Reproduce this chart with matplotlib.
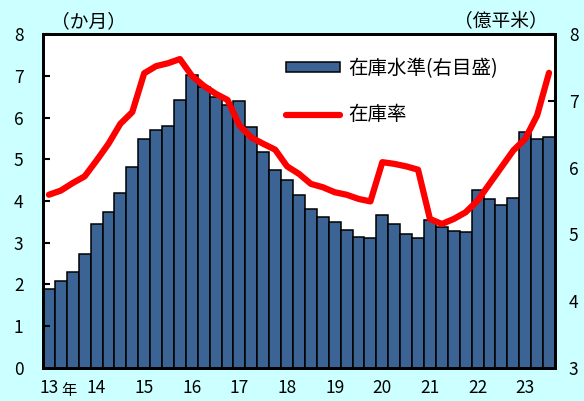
import matplotlib
matplotlib.use("Agg")
import matplotlib.pyplot as plt
import numpy as np
from matplotlib.patches import Patch
from matplotlib.lines import Line2D

plt.rcParams["font.family"] = ["Noto Sans CJK JP", "DejaVu Sans"]

# quarterly, 2013Q1 - 2023Q3
years = [str(y) for y in range(13, 24)]
stock_level = [4.19, 4.30, 4.44, 4.71, 5.16, 5.34, 5.62, 6.01, 6.43, 6.56, 6.63, 7.01,
               7.38, 7.21, 7.06, 6.94, 7.00, 6.61, 6.24, 5.96, 5.81, 5.59, 5.38, 5.26,
               5.19, 5.07, 4.96, 4.94, 5.29, 5.16, 5.01, 4.95, 5.22, 5.11, 5.05, 5.04,
               5.67, 5.53, 5.44, 5.54, 6.53, 6.43, 6.46]  # 億平米 (right axis)
stock_ratio = [4.15, 4.25, 4.43, 4.59, 4.97, 5.37, 5.85, 6.13, 7.06, 7.23, 7.30, 7.40,
               7.00, 6.76, 6.57, 6.42, 5.81, 5.52, 5.37, 5.23, 4.83, 4.65, 4.41, 4.33,
               4.21, 4.15, 4.05, 3.99, 4.93, 4.89, 4.83, 4.75, 3.57, 3.45, 3.57, 3.73,
               4.01, 4.41, 4.81, 5.21, 5.49, 6.05, 7.07]  # か月 (left axis)

BG = "#CCFFFF"
BAR = "#3B6494"
x = np.arange(len(stock_level))

fig = plt.figure(figsize=(5.84, 4.01), dpi=100, facecolor=BG)
ax = fig.add_axes([0.0736, 0.0823, 0.8767, 0.8329])
ax2 = ax.twinx()

ax2.bar(x, np.array(stock_level) - 3, bottom=3, width=1.0, color=BAR,
        edgecolor="black", linewidth=1.1, zorder=2)
ax2.set_ylim(3, 8)
ax2.set_yticks(range(3, 9))

ax.plot(x, stock_ratio, color="#FF0000", lw=4.5, solid_capstyle="round",
        solid_joinstyle="round", zorder=5)
ax.set_zorder(ax2.get_zorder() + 1)
ax.patch.set_visible(False)
ax2.patch.set_facecolor("white")
ax2.patch.set_visible(True)

ax.set_ylim(0, 8)
ax.set_yticks(range(0, 9))
ax.set_xlim(-0.5, len(x) - 0.5)
ax.set_xticks(np.arange(0, len(x), 4))
ax.set_xticklabels(years)

for a in (ax, ax2):
    a.tick_params(axis="y", direction="in", length=5, width=1.5, labelsize=12.5, pad=14)
    a.tick_params(axis="x", length=0, labelsize=12.5, pad=8)
    for s in a.spines.values():
        s.set_linewidth(2)
ax2.tick_params(axis="y", pad=10)

fig.text(0.088, 0.945, "（か月）", fontsize=13.5, ha="left", va="center")
fig.text(0.938, 0.945, "（億平米）", fontsize=13.5, ha="right", va="center")
fig.text(0.118, 0.004, "年", fontsize=11, ha="center", va="bottom")

handles = [Patch(facecolor=BAR, edgecolor="black", linewidth=1.1),
           Line2D([0], [0], color="#FF0000", lw=4.5, solid_capstyle="round")]
ax.legend(handles, ["在庫水準(右目盛)", "在庫率"], loc="upper left",
          bbox_to_anchor=(0.44, 0.98), frameon=False, fontsize=14,
          handlelength=2.8, handleheight=0.4, handletextpad=0.4, labelspacing=1.3)

fig.savefig("out.png", dpi=100, facecolor=BG)
